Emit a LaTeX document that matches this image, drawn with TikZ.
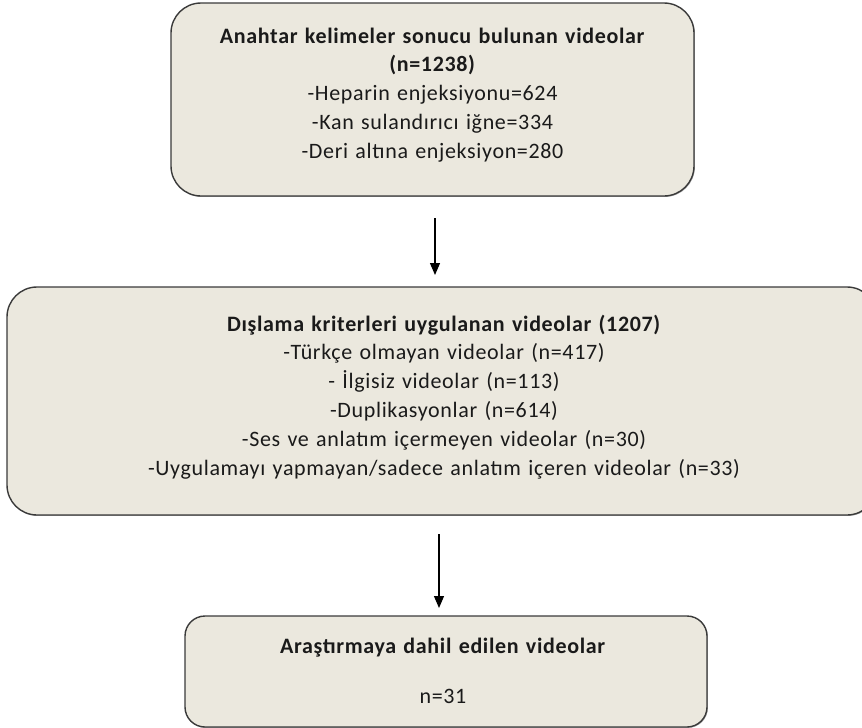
\documentclass[tikz,border=0pt]{standalone}
\usepackage{fontspec}
\setmainfont[LetterSpace=3]{Carlito}
\usetikzlibrary{arrows.meta,shadows}
\definecolor{boxfill}{HTML}{EBE8DE}
\definecolor{boxline}{HTML}{3A3A3A}
\definecolor{txtcol}{HTML}{1A1A1A}
\begin{document}
\begin{tikzpicture}[x=1pt,y=-1pt,
  box/.style={draw=boxline,line width=1.4pt,fill=boxfill,rectangle,
    inner sep=0pt,outer sep=0pt,
    drop shadow={shadow xshift=0.9pt,shadow yshift=-0.9pt,opacity=0.35,fill=black}},
  txt/.style={text width=700pt,align=center,inner sep=0pt,anchor=base,
    text=txtcol,font=\fontsize{22pt}{28.8pt}\selectfont},
  arr/.style={line width=1.2pt,-{Triangle[length=12pt,width=10pt]}}]
\useasboundingbox (0,0) rectangle (862,728);
\clip (0,0) rectangle (862,728);
\node[box,rounded corners=30pt,minimum width=523pt,minimum height=193pt] (b1) at (432.5,99.5) {};
\node[box,rounded corners=30pt,minimum width=870pt,minimum height=228pt] (b2) at (442,401) {};
\node[box,rounded corners=20pt,minimum width=522pt,minimum height=111pt] (b3) at (446,671.5) {};
\node[txt] (t1) at (432.5,43) {\textbf{Anahtar kelimeler sonucu bulunan videolar}\\
  \textbf{(n=1238)}\\
  -Heparin enjeksiyonu=624\\
  -Kan sulandırıcı iğne=334\\
  -Deri altına enjeksiyon=280};
\node[txt] (t2) at (444,331) {\textbf{Dışlama kriterleri uygulanan videolar (1207)}\\
  -Türkçe olmayan videolar (n=417)\\
  - İlgisiz videolar (n=113)\\
  -Duplikasyonlar (n=614)\\
  -Ses ve anlatım içermeyen videolar (n=30)\\
  -Uygulamayı yapmayan/sadece anlatım içeren videolar (n=33)};
\node[txt] (t3) at (443,653) {\textbf{Araştırmaya dahil edilen videolar}\\[21.2pt]
  n=31};
\draw[arr] ([xshift=2.5pt,yshift=-22pt]b1.south) -- ([xshift=-7pt,yshift=12pt]b2.north);
\draw[arr] ([xshift=-3pt,yshift=-19pt]b2.south) -- ([xshift=-7pt,yshift=8pt]b3.north);
\end{tikzpicture}
\end{document}
